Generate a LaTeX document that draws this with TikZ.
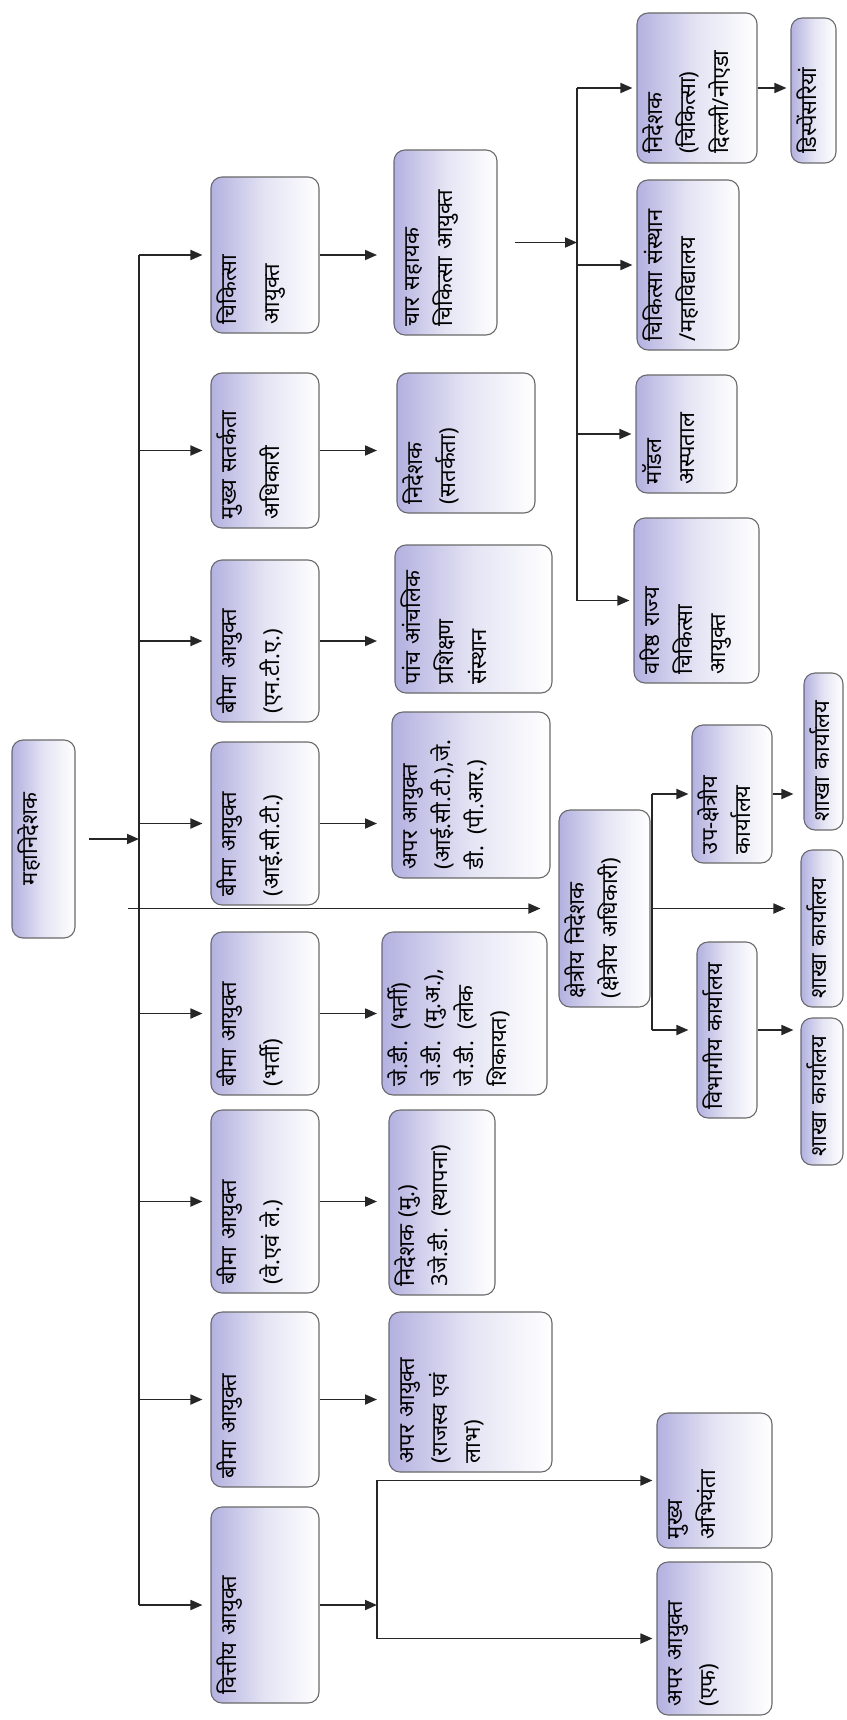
\documentclass[tikz,border=0pt]{standalone}
\usepackage{fontspec}
\usepackage{tikz}
\usetikzlibrary{arrows.meta}
\newfontfamily\deva[Script=Devanagari]{Noto Sans}
\definecolor{lav}{HTML}{B3B1E0}
\definecolor{rim}{HTML}{6A6A6A}
\definecolor{ink}{HTML}{262626}
\tikzset{
  orgbox/.style 2 args={rectangle, rounded corners=11pt, rotate=90, draw=rim, line width=1.1pt,
               left color=lav, right color=white, middle color=lav!35, align=left, inner sep=9pt,
               font=\deva\fontsize{22}{33}\selectfont,
               minimum width=#1, minimum height=#2, text width=#1-18pt,
               text height=16pt, text depth=#2-34pt},
  wide/.style={font=\deva\fontsize{22}{43}\selectfont},
  arr/.style={-{Triangle[length=12pt,width=10pt]}, line width=1.8pt, draw=ink},
  lnk/.style={line width=1.8pt, draw=ink},
}
\begin{document}
\begin{tikzpicture}[x=1pt, y=-1pt]
    \useasboundingbox (0,0) rectangle (846,1720);
    \node[orgbox={198pt}{63pt}, align=center] (root) at (43.5,839) {महानिदेशक};
    % first row
    \node[orgbox={156pt}{108pt}, wide] (cmed) at (265,255) {चिकित्सा\\आयुक्त};
    \node[orgbox={155pt}{108pt}, wide] (cvig) at (265,450.5) {मुख्य सतर्कता\\अधिकारी};
    \node[orgbox={162pt}{108pt}, wide] (inta) at (265,641) {बीमा आयुक्त\\(एन.टी.ए.)};
    \node[orgbox={163pt}{108pt}, wide] (iict) at (265,823.5) {बीमा आयुक्त\\(आई.सी.टी.)};
    \node[orgbox={163pt}{108pt}, wide] (irec) at (265,1013.5) {बीमा आयुक्त\\(भर्ती)};
    \node[orgbox={183pt}{108pt}, wide] (ipa) at (265,1201.5) {बीमा आयुक्त\\(वे.एवं ले.)};
    \node[orgbox={175pt}{108pt}, wide] (iben) at (265,1399.5) {बीमा आयुक्त};
    \node[orgbox={196pt}{108pt}, wide] (fin) at (265,1605) {वित्तीय आयुक्त};
    % second row
    \node[orgbox={185pt}{103pt}] (ads) at (445.5,242.5) {चार सहायक\\चिकित्सा आयुक्त};
    \node[orgbox={140pt}{138pt}] (dvig) at (466,443) {निदेशक\\(सतर्कता)};
    \node[orgbox={148pt}{157pt}] (zti) at (473.5,619) {पांच आंचलिक\\प्रशिक्षण\\संस्थान};
    \node[orgbox={166pt}{158pt}] (aict) at (471,795) {अपर आयुक्त\\(आई.सी.टी.),जे.\\डी. (पी.आर.)};
    \node[orgbox={163pt}{165pt}] (jdr) at (464.5,1013.5) {जे.डी. (भर्ती)\\जे.डी. (मु.अ.),\\जे.डी. (लोक\\शिकायत)};
    \node[orgbox={185pt}{106pt}] (dmu) at (442,1202.5) {निदेशक (मु.)\\3जे.डी. (स्थापना)};
    \node[orgbox={160pt}{163pt}] (arl) at (470.5,1392) {अपर आयुक्त\\(राजस्व एवं\\लाभ)};
    \node[orgbox={135pt}{115pt}] (ceng) at (714.5,1480.5) {मुख्य\\अभियंता};
    \node[orgbox={153pt}{115pt}] (addf) at (714.5,1638.5) {अपर आयुक्त\\(एफ)};
    % regional side
    \node[orgbox={197pt}{91pt}] (rdir) at (604.5,908.5) {क्षेत्रीय निदेशक\\(क्षेत्रीय अधिकारी)};
    \node[orgbox={138pt}{80pt}] (upk) at (732,794) {उप-क्षेत्रीय\\कार्यालय};
    \node[orgbox={176pt}{60pt}] (vibh) at (727,1030) {विभागीय कार्यालय};
    \node[orgbox={157pt}{39pt}] (sh1) at (823.5,751.5) {शाखा कार्यालय};
    \node[orgbox={157pt}{42pt}] (sh2) at (822,928.5) {शाखा कार्यालय};
    \node[orgbox={147pt}{42pt}] (sh3) at (822,1091.5) {शाखा कार्यालय};
    % medical side
    \node[orgbox={150pt}{120pt}] (dmed) at (697,88) {निदेशक\\(चिकित्सा)\\दिल्ली/नोएडा};
    \node[orgbox={145pt}{45pt}] (disp) at (813.5,90.5) {डिस्पेंसरियां};
    \node[orgbox={170pt}{102pt}] (cins) at (688,265) {चिकित्सा संस्थान\\/महाविद्यालय};
    \node[orgbox={118pt}{101pt}] (mhos) at (686.5,434) {मॉडल\\अस्पताल};
    \node[orgbox={165pt}{125pt}] (vsmc) at (696.5,600.5) {वरिष्ठ राज्य\\चिकित्सा\\आयुक्त};

    \coordinate (bus) at (139,0);
    \coordinate (tip2) at (377,0);
    \coordinate (mbus) at (577,0);
    \coordinate (rbus) at (652,0);

    \draw[lnk] (bus |- cmed) -- (bus |- fin);
    \draw[arr, shorten <=13pt] (root) -- (bus |- root);
    \draw[arr, shorten <=-11pt, shorten >=18pt] (bus |- rdir) -- (rdir);
    \draw[arr, shorten >=8pt] (bus |- cmed) -- (cmed); \draw[arr, shorten >=8pt] (bus |- cvig) -- (cvig);
    \draw[arr, shorten >=8pt] (bus |- inta) -- (inta); \draw[arr, shorten >=8pt] (bus |- iict) -- (iict);
    \draw[arr, shorten >=8pt] (bus |- irec) -- (irec); \draw[arr, shorten >=8pt] (bus |- ipa) -- (ipa);
    \draw[arr, shorten >=8pt] (bus |- iben) -- (iben); \draw[arr, shorten >=8pt] (bus |- fin) -- (fin);

    \draw[arr] (cmed) -- (tip2 |- cmed); \draw[arr] (cvig) -- (tip2 |- cvig);
    \draw[arr] (inta) -- (tip2 |- inta); \draw[arr] (iict) -- (tip2 |- iict);
    \draw[arr] (irec) -- (tip2 |- irec); \draw[arr] (ipa) -- (tip2 |- ipa);
    \draw[arr] (iben) -- (tip2 |- iben); \draw[arr] (fin) -- (tip2 |- fin);
    \draw[arr, shorten >=4pt] (tip2 |- addf) -- (tip2 |- ceng) -- (ceng);
    \draw[arr, shorten >=4pt] (tip2 |- addf) -- (addf);

    \draw[arr, shorten <=17pt] (ads) -- (mbus |- ads);
    \draw[lnk] (mbus |- dmed) -- (mbus |- vsmc);
    \draw[arr, shorten >=4pt] (mbus |- dmed) -- (dmed); \draw[arr, shorten >=4pt] (mbus |- cins) -- (cins);
    \draw[arr, shorten >=4pt] (mbus |- mhos) -- (mhos); \draw[arr, shorten >=4pt] (mbus |- vsmc) -- (vsmc);
    \draw[arr, shorten >=4pt] (dmed) -- (dmed -| disp.north);

    \draw[lnk] (rbus |- upk) -- (rbus |- vibh);
    \draw[arr, shorten >=3pt] (rbus |- upk) -- (upk); \draw[arr, shorten >=8pt] (rbus |- vibh) -- (vibh);
    \draw[arr, shorten >=15pt] (rdir) -- (rdir -| sh2.north);
    \draw[arr, shorten >=10pt] (upk) -- (upk -| sh1.north);
    \draw[arr, shorten >=7pt] (vibh) -- (vibh -| sh3.north);
\end{tikzpicture}
\end{document}
